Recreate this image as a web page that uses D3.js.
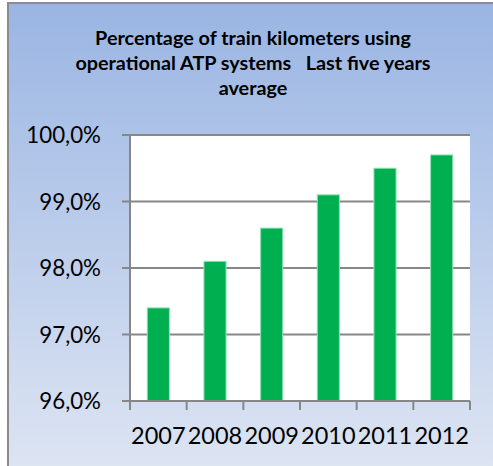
<!DOCTYPE html>
<html><head><meta charset="utf-8">
<script src="https://cdn.jsdelivr.net/npm/d3@7"></script>
<style>html,body{margin:0;padding:0;background:#fff;overflow:hidden}</style>
</head><body>
<svg id="c" width="493" height="466"></svg>
<script>
const years = ["2007","2008","2009","2010","2011","2012"];
const values = [97.4, 98.1, 98.6, 99.1, 99.5, 99.7];
const yTicks = [96, 97, 98, 99, 100];
const titleLines = ["Percentage of train kilometers using", "operational ATP systems\u00a0\u00a0\u00a0Last five years", "average"];

const svg = d3.select("#c");
const defs = svg.append("defs");
const g = defs.append("linearGradient").attr("id","bg").attr("x1",0).attr("y1",0).attr("x2",0).attr("y2",1);
g.append("stop").attr("offset","0%").attr("stop-color","#9ab5e3");
g.append("stop").attr("offset","100%").attr("stop-color","#dfe6f3");

svg.append("rect").attr("x",8).attr("y",3).attr("width",500).attr("height",480)
  .attr("fill","url(#bg)").attr("stroke","#8c8c8c").attr("stroke-width",2);

const fontFam = "Lato, 'Open Sans', sans-serif";
svg.append("g").selectAll("text").data(titleLines).join("text")
  .attr("x",253).attr("y",(d,i)=>45+i*25)
  .attr("text-anchor","middle").attr("font-family",fontFam).attr("font-weight",700)
  .attr("font-size",19.8).attr("fill","#000").text(d=>d);

const pL=130, pR=470, pT=135, pB=401;
const x = d3.scaleBand().domain(years).range([pL,pR]).paddingInner(0.61).paddingOuter(0.305);
const xb = d3.scaleBand().domain(years).range([pL,pR]);
const y = d3.scaleLinear().domain([96,100]).range([pB,pT]);

svg.append("rect").attr("x",pL).attr("y",pT).attr("width",pR-pL).attr("height",pB-pT).attr("fill","#fff");

// gridlines
svg.append("g").selectAll("line").data(yTicks).join("line")
  .attr("x1",pL-8).attr("x2",pR).attr("y1",d=>y(d)).attr("y2",d=>y(d))
  .attr("stroke","#878787").attr("stroke-width",2);

// bars
svg.append("g").selectAll("rect").data(values).join("rect")
  .attr("x",(d,i)=>x(years[i])).attr("width",x.bandwidth())
  .attr("y",d=>y(d)).attr("height",d=>pB-y(d))
  .attr("fill","#00b050").attr("stroke","#8fe0b4").attr("stroke-width",1);

// left axis line
svg.append("line").attr("x1",pL).attr("x2",pL).attr("y1",pT).attr("y2",pB+9)
  .attr("stroke","#878787").attr("stroke-width",2);
// bottom axis line
svg.append("line").attr("x1",pL).attr("x2",pR).attr("y1",pB).attr("y2",pB)
  .attr("stroke","#878787").attr("stroke-width",2);
// x ticks
const bounds = years.map(d=>xb(d)).concat([pR]);
svg.append("g").selectAll("line").data(bounds).join("line")
  .attr("x1",d=>d).attr("x2",d=>d).attr("y1",pB).attr("y2",pB+9)
  .attr("stroke","#878787").attr("stroke-width",2);

// y labels
const fmt = v => v.toFixed(1).replace(".",",")+"%";
svg.append("g").selectAll("text").data(yTicks).join("text")
  .attr("x",101).attr("y",d=>y(d)).attr("dy","0.36em")
  .attr("text-anchor","end").attr("font-family",fontFam).attr("font-size",22.3)
  .attr("fill","#000").text(fmt);

// x labels
svg.append("g").selectAll("text").data(years).join("text")
  .attr("x",d=>xb(d)+xb.bandwidth()/2).attr("y",444)
  .attr("text-anchor","middle").attr("font-family",fontFam).attr("font-size",23.5)
  .attr("fill","#000").text(d=>d);
</script>
</body></html>
